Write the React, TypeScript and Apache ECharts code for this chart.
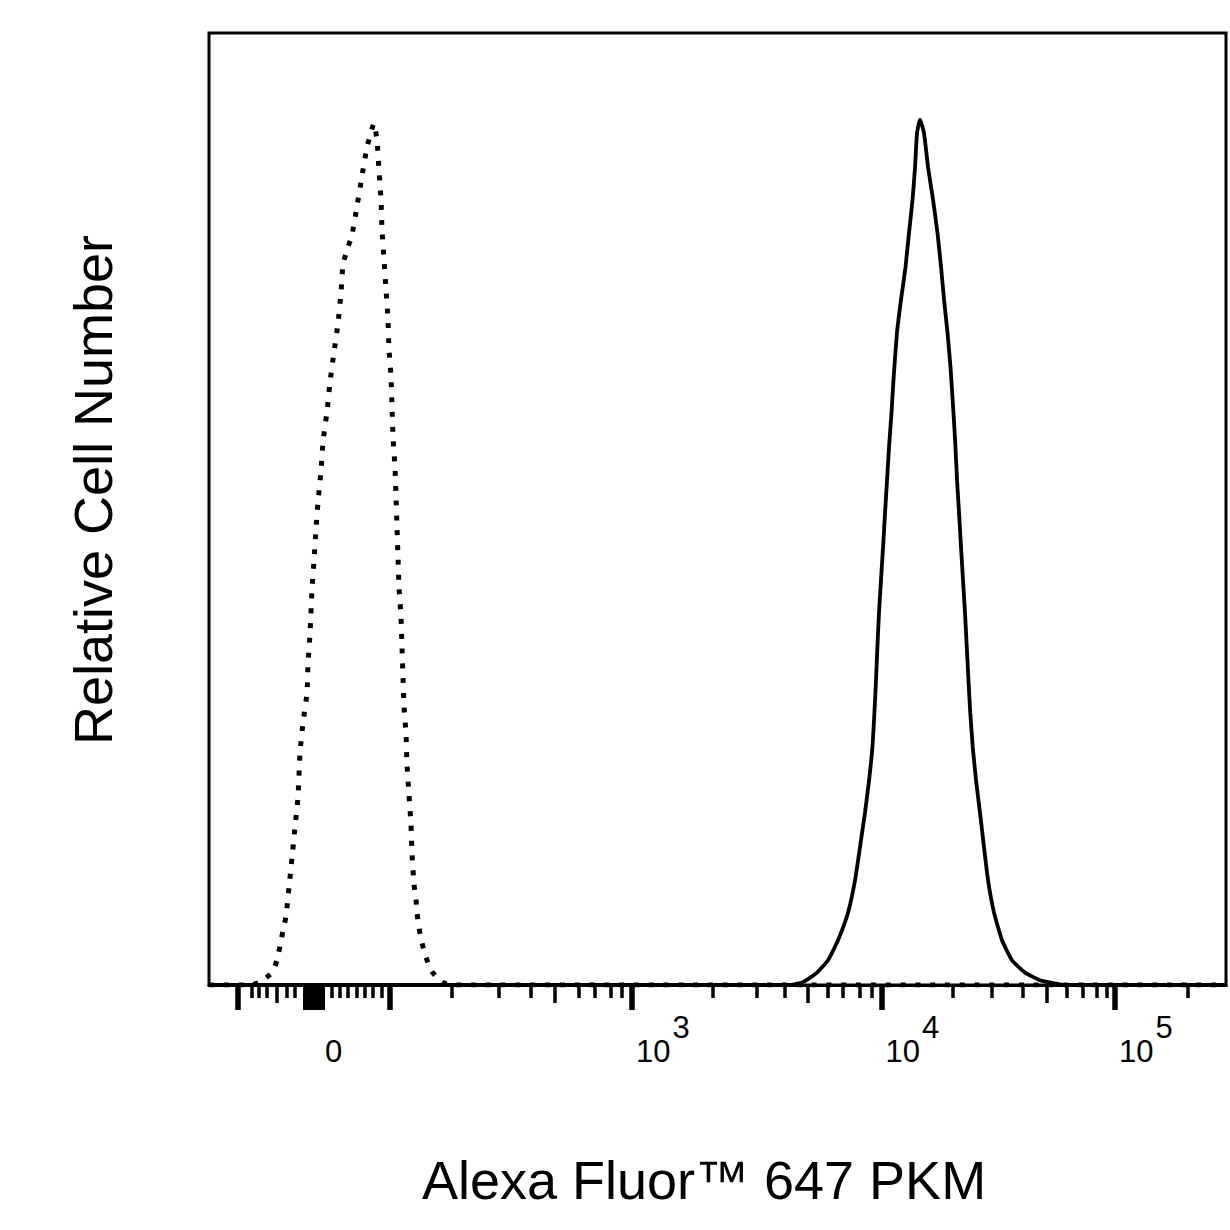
import React, { useEffect, useRef } from "react";
import * as echarts from "echarts";

// Display channel scale (0–1024) of a biexponential FlowJo-style axis
const CH_MAX = 1024;
const Y_MAX = 100;

// Isotype control (dotted) histogram: channel, % of max
const isotypeCh = [0, 41.3, 51.4, 63.4, 68.5, 71.5, 74.5, 77.5, 80.6, 83.6, 86.6, 89.6, 91.6, 94.6, 98.7, 99.7, 101.7, 103.7, 105.7, 107.7, 109.8, 112.8, 114.8, 118.8, 121.8, 125.9, 129.9, 132.9, 134.9, 139.0, 144.0, 149.0, 154.1, 159.1, 166.1, 169.2, 171.2, 173.2, 174.2, 176.2, 178.2, 180.2, 181.2, 183.3, 184.3, 185.3, 187.3, 188.3, 189.3, 190.3, 191.3, 193.3, 194.3, 195.3, 196.3, 198.4, 199.4, 201.4, 203.4, 204.4, 206.4, 208.4, 209.4, 211.4, 214.5, 218.5, 224.5, 234.6, 244.7, 1024];
const isotypePct = [0, 0, 0.3, 1.3, 2.6, 4.1, 5.7, 7.2, 10.3, 13.4, 16.6, 19.7, 24.4, 27.5, 30.7, 33.7, 36.9, 41.6, 44.6, 47.8, 50.8, 54.0, 57.1, 60.2, 63.3, 66.5, 69.5, 72.7, 75.7, 77.2, 78.8, 81.8, 85.0, 88.0, 90.5, 88.7, 85.5, 82.5, 79.3, 76.2, 73.1, 70.0, 66.8, 63.8, 60.6, 57.5, 54.3, 51.3, 48.1, 45.0, 41.8, 38.7, 35.6, 32.5, 29.4, 26.3, 23.1, 20.0, 16.8, 13.8, 10.6, 9.0, 7.6, 6.0, 4.4, 2.9, 1.4, 0.3, 0, 0];

// PKM stained (solid) histogram: channel, % of max
const stainedCh = [0, 585.0, 598.1, 612.2, 623.3, 633.3, 643.4, 650.5, 655.5, 660.5, 664.6, 668.0, 670.0, 671.6, 673.0, 674.6, 676.6, 678.7, 680.7, 682.7, 684.7, 687.2, 689.2, 692.7, 696.8, 701.3, 704.8, 708.4, 710.9, 712.9, 715.9, 719.9, 724.0, 729.0, 733.5, 737.1, 740.1, 743.6, 746.6, 749.6, 751.6, 753.2, 755.2, 757.2, 759.2, 761.2, 763.0, 764.7, 766.5, 769.0, 772.3, 776.3, 780.3, 784.4, 790.4, 798.5, 808.5, 821.6, 836.7, 849.8, 861.9, 1024];
const stainedPct = [0, 0, 0.3, 1.3, 2.6, 4.7, 7.6, 11.0, 14.5, 18.1, 21.5, 25.0, 28.6, 32.0, 35.5, 39.1, 42.5, 46.0, 49.6, 53.0, 56.5, 60.1, 63.6, 68.5, 72.0, 75.4, 79.0, 82.5, 85.9, 89.5, 90.9, 89.5, 85.9, 82.5, 79.0, 75.4, 72.0, 68.5, 64.9, 60.1, 56.5, 53.0, 49.6, 46.0, 42.5, 39.1, 35.5, 32.0, 28.6, 25.0, 21.5, 18.1, 14.5, 11.0, 7.6, 4.7, 2.6, 1.3, 0.5, 0.2, 0, 0];

// Axis ticks (channel positions)
const majorTicks = [29.2, 182.2, 425.9, 677.1, 912.3];
const zeroTick = [105.7];
const mediumTicks = [68.5, 348.4, 603.1, 843.8];
const minorTicks = [43.3, 50.3, 58.4, 78.5, 86.6, 123.8, 131.9, 140.0, 149.0, 157.1, 165.1, 174.2, 244.7, 292.0, 324.2, 372.6, 388.7, 404.8, 415.9, 507.5, 551.8, 580.0, 623.3, 638.4, 655.5, 667.6, 749.1, 788.4, 819.6, 863.9, 880.0, 894.1, 904.2, 985.8];
const labelTicks = [105.7, 425.9, 677.1, 912.3];
const labelBase = ["0", "10", "10", "10"];
const labelExp = ["", "3", "4", "5"];

const xTitle = "Alexa Fluor™ 647 PKM";
const yTitle = "Relative Cell Number";

const FONT = "Liberation Sans";
const LABEL_SIZE = 31;

function tickAxis(values: number[], length: number, width: number, extra: any = {}) {
  return {
    type: "value",
    min: 0,
    max: CH_MAX,
    position: "bottom",
    gridIndex: 0,
    axisLine: { show: false },
    splitLine: { show: false },
    axisLabel: { show: false },
    axisTick: {
      show: true,
      inside: false,
      length,
      customValues: values,
      lineStyle: { color: "#000", width, cap: "butt" },
    },
    ...extra,
  };
}

export default function App() {
  const ref = useRef<HTMLDivElement>(null);
  useEffect(() => {
    if (!ref.current) return;
    const chart = echarts.init(ref.current, null, { renderer: "svg" });
    const iso = isotypeCh.map((c, i) => [c, isotypePct[i]]);
    const st = stainedCh.map((c, i) => [c, stainedPct[i]]);
    const labelIndex = (v: number) => labelTicks.findIndex((t) => Math.abs(t - v) < 0.01);
    const tok = (pad: number, va: string) => ({
      fontFamily: FONT,
      fontSize: LABEL_SIZE,
      color: "#000",
      lineHeight: 55,
      verticalAlign: va,
      padding: [0, 0, 0, pad],
    });

    chart.setOption({
      animation: false,
      backgroundColor: "#fff",
      grid: {
        left: 209,
        top: 33,
        width: 1017,
        height: 952,
        show: true,
        borderColor: "#000",
        borderWidth: 3,
        backgroundColor: "transparent",
      },
      xAxis: [
        {
          ...tickAxis(majorTicks, 25, 5.5),
          axisLine: { show: true, lineStyle: { color: "#000", width: 3 } },
          axisLabel: {
            show: true,
            customValues: labelTicks,
            margin: 27,
            align: "left",
            verticalAlign: "top",
            fontFamily: FONT,
            fontSize: LABEL_SIZE,
            color: "#000",
            formatter: (v: number) => {
              const i = labelIndex(v);
              if (i < 0) return "";
              if (!labelExp[i]) return "{z|" + labelBase[i] + "}";
              return "{b|" + labelBase[i] + "}{s|" + labelExp[i] + "}";
            },
            rich: {
              z: tok(11, "bottom"),
              b: tok(4, "bottom"),
              s: tok(2, "top"),
            },
          },
        },
        tickAxis(zeroTick, 25, 22),
        tickAxis(mediumTicks, 18, 3.5),
        tickAxis(minorTicks, 13, 3.5),
      ],
      yAxis: {
        type: "value",
        min: 0,
        max: Y_MAX,
        show: false,
      },
      series: [
        {
          type: "line",
          name: "Isotype",
          xAxisIndex: 0,
          data: iso,
          showSymbol: false,
          smooth: 0.15,
          lineStyle: { color: "#000", width: 5, type: [5, 9.8], cap: "butt" },
          z: 3,
        },
        {
          type: "line",
          name: "PKM",
          xAxisIndex: 0,
          data: st,
          showSymbol: false,
          smooth: 0.15,
          lineStyle: { color: "#000", width: 3.8, type: "solid" },
          z: 4,
        },
      ],
      graphic: [
        {
          type: "text",
          x: 704,
          y: 1180,
          style: {
            text: xTitle,
            font: "54px " + FONT,
            fill: "#000",
            textAlign: "center",
            textVerticalAlign: "middle",
          },
        },
        {
          type: "text",
          x: 93,
          y: 490,
          rotation: Math.PI / 2,
          style: {
            text: yTitle,
            font: "54px " + FONT,
            fill: "#000",
            textAlign: "center",
            textVerticalAlign: "middle",
          },
        },
      ],
    });
    return () => chart.dispose();
  }, []);
  return (
    <div
      ref={ref}
      style={{ position: "absolute", left: 0, top: 0, width: 1230, height: 1230, background: "#fff" }}
    />
  );
}
